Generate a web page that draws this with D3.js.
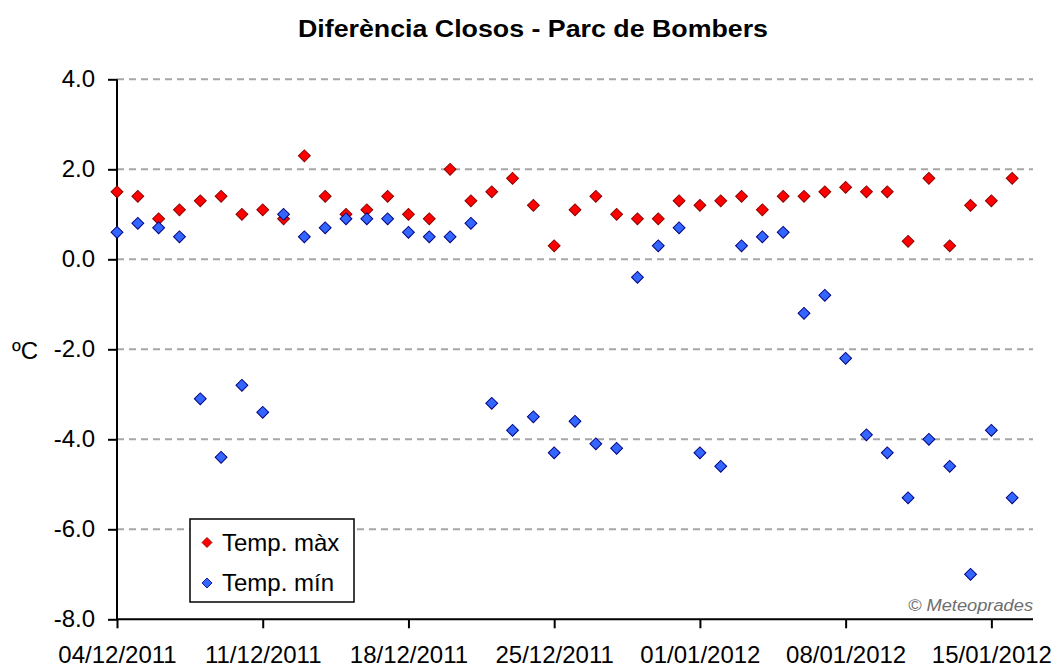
<!DOCTYPE html>
<html>
<head>
<meta charset="utf-8">
<script src="https://cdn.jsdelivr.net/npm/d3@7"></script>
<style>
	body { margin: 0; background: #ffffff; }
	svg text { font-family: "Liberation Sans", Arial, sans-serif; fill: #000; }
</style>
</head>
<body>
<div id="chart"></div>
<script>
// Diferència Closos - Parc de Bombers, daily values from 04/12/2011
var days = [
	"04/12/2011", "05/12/2011", "06/12/2011", "07/12/2011", "08/12/2011", "09/12/2011", "10/12/2011",
	"11/12/2011", "12/12/2011", "13/12/2011", "14/12/2011", "15/12/2011", "16/12/2011", "17/12/2011",
	"18/12/2011", "19/12/2011", "20/12/2011", "21/12/2011", "22/12/2011", "23/12/2011", "24/12/2011",
	"25/12/2011", "26/12/2011", "27/12/2011", "28/12/2011", "29/12/2011", "30/12/2011", "31/12/2011",
	"01/01/2012", "02/01/2012", "03/01/2012", "04/01/2012", "05/01/2012", "06/01/2012", "07/01/2012",
	"08/01/2012", "09/01/2012", "10/01/2012", "11/01/2012", "12/01/2012", "13/01/2012", "14/01/2012",
	"15/01/2012", "16/01/2012"
];
var tempMax = [
	1.5, 1.4, 0.9, 1.1, 1.3, 1.4, 1.0, 1.1, 0.9, 2.3, 1.4, 1.0, 1.1, 1.4,
	1.0, 0.9, 2.0, 1.3, 1.5, 1.8, 1.2, 0.3, 1.1, 1.4, 1.0, 0.9, 0.9, 1.3,
	1.2, 1.3, 1.4, 1.1, 1.4, 1.4, 1.5, 1.6, 1.5, 1.5, 0.4, 1.8, 0.3, 1.2,
	1.3, 1.8
];
var tempMin = [
	0.6, 0.8, 0.7, 0.5, -3.1, -4.4, -2.8, -3.4, 1.0, 0.5, 0.7, 0.9, 0.9, 0.9,
	0.6, 0.5, 0.5, 0.8, -3.2, -3.8, -3.5, -4.3, -3.6, -4.1, -4.2, -0.4, 0.3, 0.7,
	-4.3, -4.6, 0.3, 0.5, 0.6, -1.2, -0.8, -2.2, -3.9, -4.3, -5.3, -4.0, -4.6, -7.0,
	-3.8, -5.3
];
var xTickLabels = ["04/12/2011", "11/12/2011", "18/12/2011", "25/12/2011", "01/01/2012", "08/01/2012", "15/01/2012"];
var yTicks = [-8, -6, -4, -2, 0, 2, 4];
var xRange = ["04/12/2011", "17/01/2012"];

var series = [
	{ name: "Temp. màx", values: tempMax, fill: "#ff0000", stroke: "#8a0000" },
	{ name: "Temp. mín", values: tempMin, fill: "#3366ff", stroke: "#000080" }
];

var width = 1057, height = 668;
var margin = { top: 79.3, right: 24, bottom: 48.7, left: 117 };
var parseDay = d3.timeParse("%d/%m/%Y");

var svg = d3.select("#chart").append("svg")
	.attr("width", width)
	.attr("height", height);

var x = d3.scaleTime()
	.domain(xRange.map(parseDay))
	.range([margin.left, width - margin.right]);

var y = d3.scaleLinear()
	.domain([-8, 4])
	.range([height - margin.bottom, margin.top]);

// dashed grid lines
svg.append("g")
	.selectAll("line")
	.data(yTicks.filter(function (d) { return d > -8; }))
	.enter().append("line")
	.attr("x1", margin.left)
	.attr("x2", width - margin.right)
	.attr("y1", function (d) { return y(d); })
	.attr("y2", function (d) { return y(d); })
	.attr("stroke", "#a6a6a6")
	.attr("stroke-width", 2)
	.attr("stroke-dasharray", "7,5");

// axes
var yAxis = d3.axisLeft(y)
	.tickValues(yTicks)
	.tickSize(9)
	.tickPadding(13)
	.tickFormat(function (d) { return d.toFixed(1); });

var xAxis = d3.axisBottom(x)
	.tickValues(xTickLabels.map(parseDay))
	.tickSize(9)
	.tickPadding(18)
	.tickFormat(d3.timeFormat("%d/%m/%Y"));

var gy = svg.append("g")
	.attr("transform", "translate(" + margin.left + ",0)")
	.call(yAxis);
var gx = svg.append("g")
	.attr("transform", "translate(0," + (height - margin.bottom) + ")")
	.call(xAxis);

[gx, gy].forEach(function (g) {
	g.select(".domain").attr("stroke", "#000").attr("stroke-width", 2);
	g.selectAll(".tick line").attr("stroke", "#000").attr("stroke-width", 2);
	g.selectAll(".tick text")
		.attr("font-size", "24px")
		.attr("font-family", "'Liberation Sans', Arial, sans-serif")
		.attr("fill", "#000");
});
gy.select(".domain").attr("d", "M0," + y(-8) + "V" + y(4));
gx.select(".domain").attr("d", "M" + margin.left + ",0H" + (width - margin.right));

// title
svg.append("text")
	.attr("x", 533)
	.attr("y", 37)
	.attr("text-anchor", "middle")
	.attr("font-size", "23px")
	.attr("font-weight", "bold")
	.attr("textLength", 470)
	.attr("lengthAdjust", "spacingAndGlyphs")
	.text("Diferència Closos - Parc de Bombers");

// unit label
svg.append("text")
	.attr("x", 12)
	.attr("y", 359)
	.attr("font-size", "24px")
	.text("ºC");

// markers
var diamond = d3.symbol().type(d3.symbolSquare).size(70);

series.forEach(function (s) {
	svg.append("g")
		.selectAll("path")
		.data(s.values)
		.enter().append("path")
		.attr("d", diamond)
		.attr("transform", function (d, i) {
			return "translate(" + x(parseDay(days[i])) + "," + y(d) + ") rotate(45)";
		})
		.attr("fill", s.fill)
		.attr("stroke", s.stroke)
		.attr("stroke-width", 1);
});

// legend
var legend = svg.append("g").attr("transform", "translate(190,519)");
legend.append("rect")
	.attr("width", 164)
	.attr("height", 83)
	.attr("fill", "#fff")
	.attr("stroke", "#000")
	.attr("stroke-width", 1.5);

var item = legend.selectAll(".legend-item")
	.data(series)
	.enter().append("g")
	.attr("class", "legend-item")
	.attr("transform", function (d, i) { return "translate(0," + (23.5 + i * 40.5) + ")"; });

item.append("path")
	.attr("d", d3.symbol().type(d3.symbolSquare).size(50))
	.attr("transform", "translate(17,0) rotate(45)")
	.attr("fill", function (d) { return d.fill; })
	.attr("stroke", function (d) { return d.stroke; })
	.attr("stroke-width", 0.8);

item.append("text")
	.attr("x", 32)
	.attr("y", 8)
	.attr("font-size", "24px")
	.text(function (d) { return d.name; });

// watermark
svg.append("text")
	.attr("x", 1033)
	.attr("y", 611)
	.attr("text-anchor", "end")
	.attr("font-size", "16px")
	.attr("font-style", "italic")
	.style("fill", "#6e6e6e")
	.attr("textLength", 125)
	.attr("lengthAdjust", "spacingAndGlyphs")
	.text("© Meteoprades");
</script>
</body>
</html>
